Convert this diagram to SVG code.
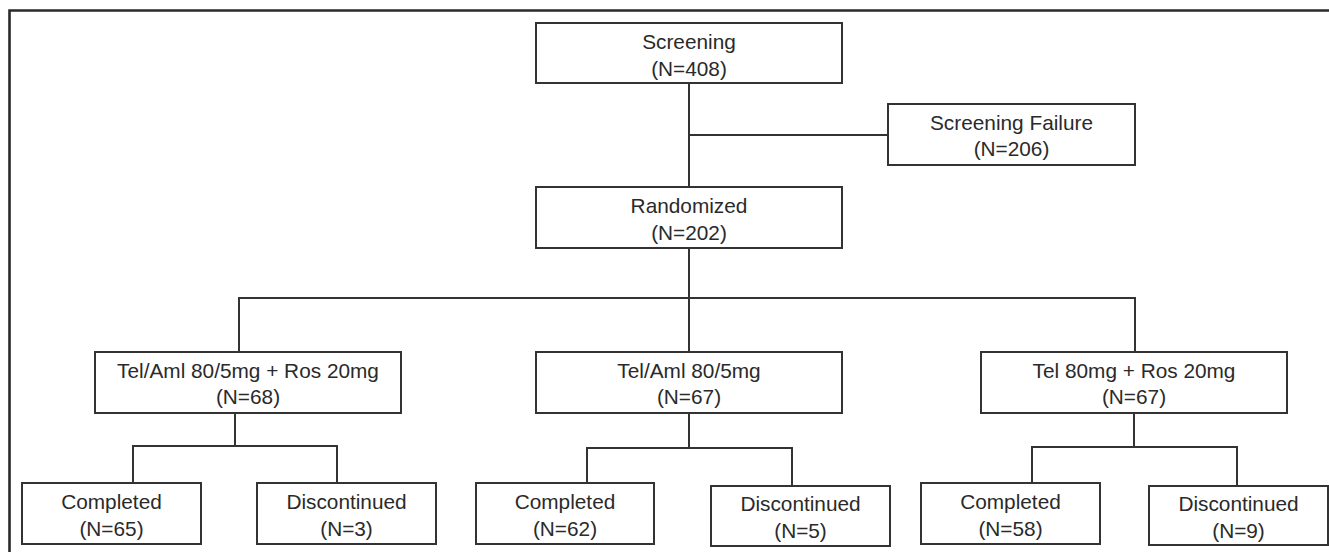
<svg xmlns="http://www.w3.org/2000/svg" width="1329" height="552" viewBox="0 0 1329 552">
<style>
.box{fill:#fff;stroke:#333;stroke-width:2}
.ln{fill:none;stroke:#333;stroke-width:2}
.t{font-family:"Liberation Sans",Arial,sans-serif;font-size:20.8px;fill:#2a2a2a;text-anchor:middle}
</style>
<rect x="0" y="0" width="1329" height="552" fill="#fff"/>
<path d="M9.5,552 V10.5 H1329" fill="none" stroke="#2a2a2a" stroke-width="2.6"/>
<g id="connectors">
<path class="ln" d="M689,83 V187"/>
<path class="ln" d="M689,135 H888"/>
<path class="ln" d="M689,248 V352"/>
<path class="ln" d="M239,352 V298 H1135 V352"/>
<path class="ln" d="M235,413 V446"/>
<path class="ln" d="M133,483 V446 H337 V483"/>
<path class="ln" d="M689,413 V448"/>
<path class="ln" d="M587,483 V448 H792 V486"/>
<path class="ln" d="M1134,413 V447"/>
<path class="ln" d="M1032,483 V447 H1237 V486"/>
</g>
<g id="screening"><rect class="box" x="536" y="23" width="306" height="60"/><text class="t" x="689" y="48.5">Screening</text><text class="t" x="689" y="75.5">(N=408)</text></g>
<g id="screening-failure"><rect class="box" x="888" y="104" width="247" height="61"/><text class="t" x="1011.5" y="129.5">Screening Failure</text><text class="t" x="1011.5" y="155.5">(N=206)</text></g>
<g id="randomized"><rect class="box" x="536" y="187" width="306" height="61"/><text class="t" x="689" y="213">Randomized</text><text class="t" x="689" y="239.5">(N=202)</text></g>
<g id="arm1"><rect class="box" x="95" y="352" width="306" height="61"/><text class="t" x="248" y="377.5">Tel/Aml 80/5mg + Ros 20mg</text><text class="t" x="248" y="403.5">(N=68)</text></g>
<g id="arm2"><rect class="box" x="536" y="352" width="306" height="61"/><text class="t" x="689" y="377.5">Tel/Aml 80/5mg</text><text class="t" x="689" y="403.5">(N=67)</text></g>
<g id="arm3"><rect class="box" x="981" y="352" width="306" height="61"/><text class="t" x="1134" y="377.5">Tel 80mg + Ros 20mg</text><text class="t" x="1134" y="403.5">(N=67)</text></g>
<g id="completed1"><rect class="box" x="22" y="483" width="179" height="61"/><text class="t" x="111.5" y="508.5">Completed</text><text class="t" x="111.5" y="536">(N=65)</text></g>
<g id="discontinued1"><rect class="box" x="257" y="483" width="179" height="61"/><text class="t" x="346.5" y="508.5">Discontinued</text><text class="t" x="346.5" y="536">(N=3)</text></g>
<g id="completed2"><rect class="box" x="476" y="483" width="178" height="61"/><text class="t" x="565" y="508.5">Completed</text><text class="t" x="565" y="536">(N=62)</text></g>
<g id="discontinued2"><rect class="box" x="711" y="486" width="179" height="60"/><text class="t" x="800.5" y="511">Discontinued</text><text class="t" x="800.5" y="538">(N=5)</text></g>
<g id="completed3"><rect class="box" x="921" y="483" width="179" height="61"/><text class="t" x="1010.5" y="508.5">Completed</text><text class="t" x="1010.5" y="536">(N=58)</text></g>
<g id="discontinued3"><rect class="box" x="1149" y="486" width="179" height="59"/><text class="t" x="1238.5" y="511">Discontinued</text><text class="t" x="1238.5" y="538">(N=9)</text></g>
</svg>
